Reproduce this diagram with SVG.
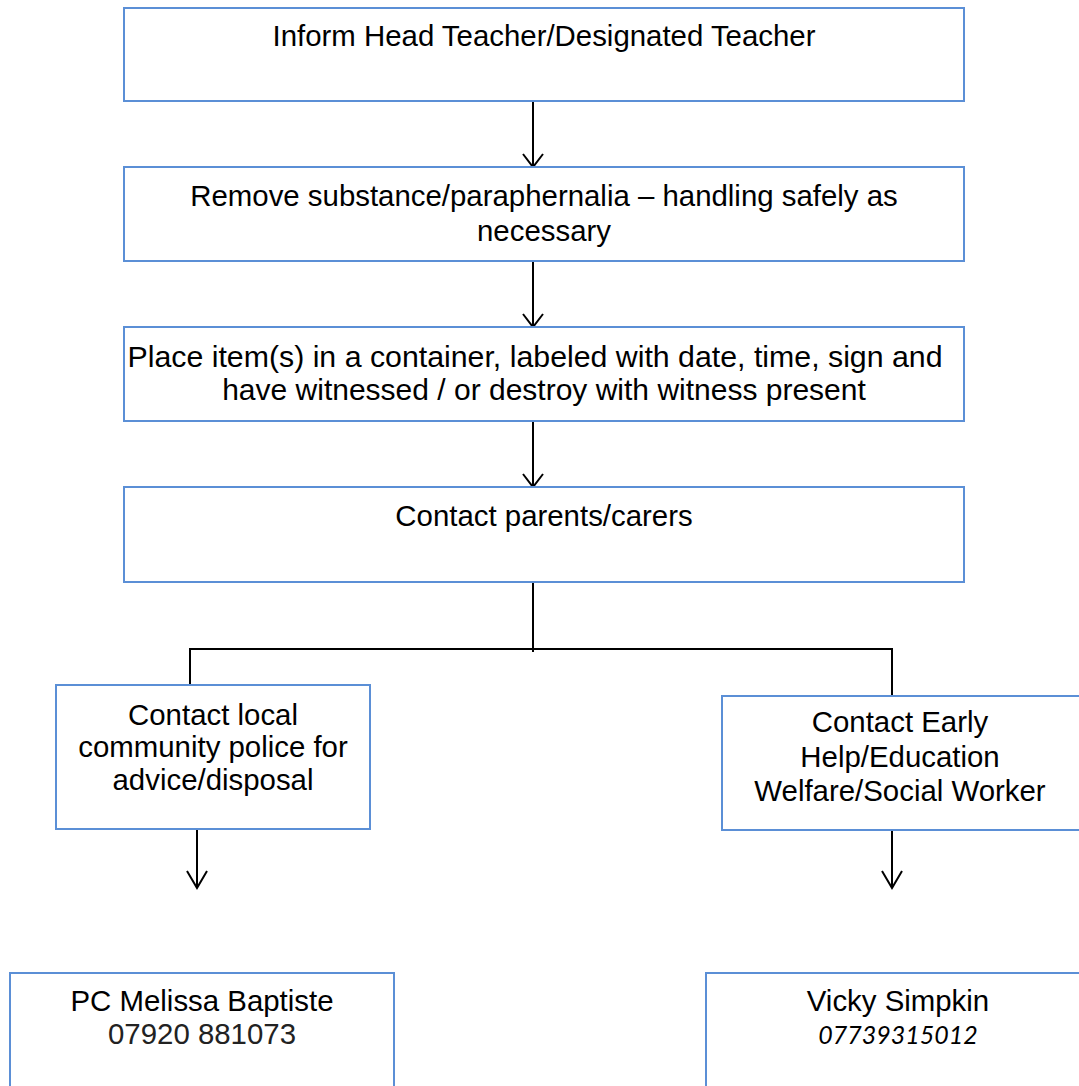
<svg xmlns="http://www.w3.org/2000/svg" width="1079" height="1086" viewBox="0 0 1079 1086">
<style>
.box{fill:#fff;stroke:#5b8fd6;stroke-width:2}
.t{font-family:"Liberation Sans",Arial,sans-serif;font-size:29.4px;fill:#000;text-anchor:middle}
.c{fill:none;stroke:#000;stroke-width:2}
.ah{fill:none;stroke:#000;stroke-width:2}
.it{font-family:Lato,"Liberation Sans",sans-serif;font-style:italic;font-size:25px;fill:#000;text-anchor:middle}
</style>
<rect width="1079" height="1086" fill="#fff"/>
<g id="connectors">
<line class="c" x1="533" y1="101" x2="533" y2="167"/>
<path class="ah" d="M523,154 L533,167 L543,154"/>
<line class="c" x1="533" y1="261" x2="533" y2="327"/>
<path class="ah" d="M523,314 L533,327 L543,314"/>
<line class="c" x1="533" y1="421" x2="533" y2="487"/>
<path class="ah" d="M523,474 L533,487 L543,474"/>
<path class="c" d="M533,582 V652 M533,649 H892 V696 M533,649 H190 V685"/>
<line class="c" x1="197" y1="829" x2="197" y2="888"/>
<path class="ah" d="M187,871 L197,888 L207,871"/>
<line class="c" x1="892" y1="830" x2="892" y2="888"/>
<path class="ah" d="M882,871 L892,888 L902,871"/>
</g>
<g id="n1"><rect class="box" x="124" y="8" width="840" height="93"/><text class="t" x="544" y="46">Inform Head Teacher/Designated Teacher</text></g>
<g id="n2"><rect class="box" x="124" y="167" width="840" height="94"/><text class="t" x="544" y="206">Remove substance/paraphernalia – handling safely as</text><text class="t" x="544" y="241">necessary</text></g>
<g id="n3"><rect class="box" x="124" y="327" width="840" height="94"/><text class="t" x="535" y="367" style="font-size:30.3px">Place item(s) in a container, labeled with date, time, sign and</text><text class="t" x="544" y="400" style="font-size:30px">have witnessed / or destroy with witness present</text></g>
<g id="n4"><rect class="box" x="124" y="487" width="840" height="95"/><text class="t" x="544" y="526">Contact parents/carers</text></g>
<g id="n5"><rect class="box" x="56" y="685" width="314" height="144"/><text class="t" x="213" y="725">Contact local</text><text class="t" x="213" y="757">community police for</text><text class="t" x="213" y="790">advice/disposal</text></g>
<g id="n6"><rect class="box" x="722" y="696" width="370" height="134"/><text class="t" x="900" y="732">Contact Early</text><text class="t" x="900" y="767">Help/Education</text><text class="t" x="900" y="801">Welfare/Social Worker</text></g>
<g id="n7"><rect class="box" x="10" y="973" width="384" height="130"/><text class="t" x="202" y="1011">PC Melissa Baptiste</text><text class="t" x="202" y="1044" style="fill:#222">07920 881073</text></g>
<g id="n8"><rect class="box" x="706" y="973" width="390" height="130"/><text class="t" x="898" y="1011">Vicky Simpkin</text><text class="it" x="898" y="1044">07739315012</text></g>
</svg>
